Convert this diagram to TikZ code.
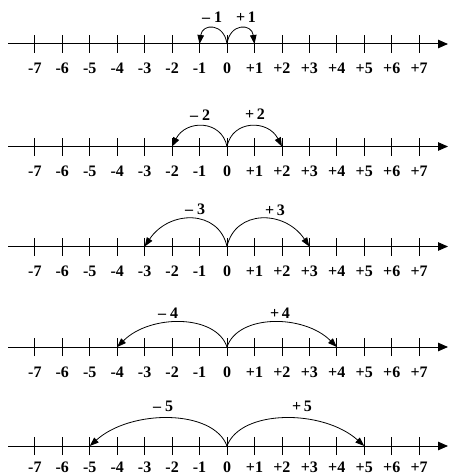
\documentclass[tikz,border=0pt]{standalone}
\usepackage{fontspec}
\setmainfont{Liberation Serif}
\usetikzlibrary{arrows.meta}
\tikzset{
  axisline/.style={line width=1pt, -{Triangle[length=10pt,width=8.5pt]}},
  tickline/.style={line width=0.8pt},
  jump/.style={line width=0.8pt, -{Triangle[length=9pt,width=6.5pt]}},
  numlab/.style={font=\fontsize{16}{18}\selectfont\bfseries, inner sep=0pt},
  steplab/.style={font=\fontsize{16}{18}\selectfont\bfseries, inner sep=0pt},
}
\begin{document}
\begin{tikzpicture}[x=1pt,y=-1pt]
\useasboundingbox (0,0) rectangle (449,476);
\foreach \r/\ay/\ly in {1/44/68, 2/146.5/171.5, 3/246.5/271.5, 4/347/372, 5/446/467.5} {
  \coordinate (s\r) at (8,\ay);
  \coordinate (e\r) at (448,\ay);
  \draw[axisline] (s\r) -- (e\r);
  \foreach \k in {-7,...,7} {
    \pgfmathtruncatemacro\i{\k+7}
    \coordinate (t\r-\i) at ({227+27.45*\k},\ay);
    \draw[tickline] ([yshift=-9pt]t\r-\i) -- ([yshift=9pt]t\r-\i);
    \node[numlab] (l\r-\i) at ({227+27.45*\k},\ly) {\ifnum\k>0 +\k\else\k\fi};
  }
}
% jumps: row/h/a/b
\foreach \r/\h/\a/\b in {1/21/0.1/0.1, 2/27/0.1/0.25, 3/37/0.1/0.3, 4/33/0.1/0.3, 5/37/0.1/0.3} {
  \pgfmathsetmacro\L{27.45*\r}
  \pgfmathtruncatemacro\lo{7-\r}
  \pgfmathtruncatemacro\hi{7+\r}
  \draw[jump] (t\r-7) .. controls +({-\a*\L},-\h) and +({\b*\L},-\h) .. (t\r-\lo);
  \draw[jump] (t\r-7) .. controls +({\a*\L},-\h) and +({-\b*\L},-\h) .. (t\r-\hi);
}
\node[steplab] (m1) at (212,17) {– 1};
\node[steplab] (p1) at (246,17) {+\,1};
\node[steplab] (m2) at (200,115) {– 2};
\node[steplab] (p2) at (255,114) {+\,2};
\node[steplab] (m3) at (195,209) {– 3};
\node[steplab] (p3) at (275,210) {+\,3};
\node[steplab] (m4) at (168,313) {– 4};
\node[steplab] (p4) at (280,313) {+\,4};
\node[steplab] (m5) at (163,406) {– 5};
\node[steplab] (p5) at (302,406) {+\,5};
\end{tikzpicture}
\end{document}
